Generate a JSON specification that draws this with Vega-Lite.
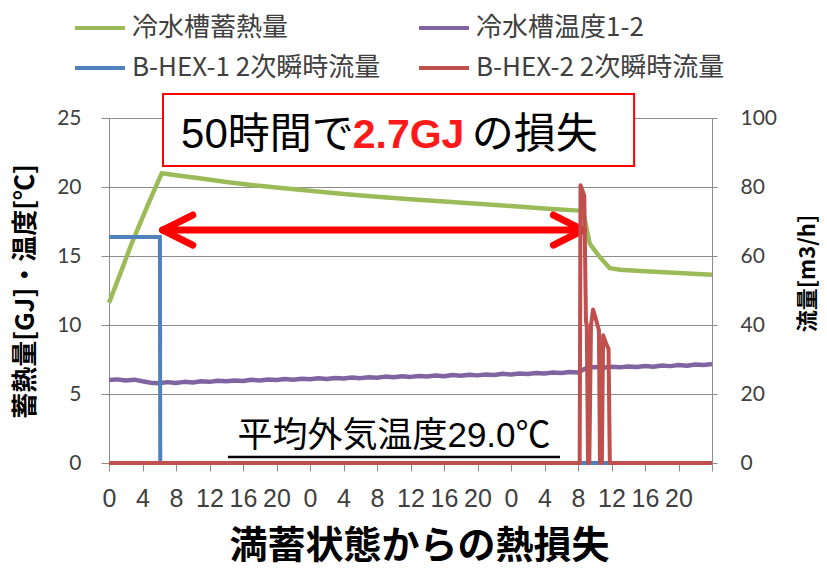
{
  "$schema": "https://vega.github.io/schema/vega-lite/v6.json",
  "width": 603,
  "height": 345,
  "autosize": {"type": "none"},
  "padding": {"left": 109, "top": 118, "right": 115, "bottom": 105},
  "background": "white",
  "config": {
    "view": {"stroke": null},
    "axis": {
      "domainColor": "#8c8c8c",
      "tickColor": "#8c8c8c",
      "labelColor": "#404040",
      "labelOverlap": false,
      "labelFlush": false
    },
    "legend": {
      "orient": "none",
      "direction": "horizontal",
      "legendX": -36,
      "legendY": -117,
      "columns": 2,
      "padding": 0,
      "symbolType": "stroke",
      "symbolSize": 2500,
      "symbolStrokeWidth": 4,
      "labelFont": "Noto Sans CJK JP",
      "labelFontSize": 26,
      "labelColor": "#404040",
      "labelOffset": 5,
      "labelLimit": 500,
      "columnPadding": 30,
      "rowPadding": -6
    }
  },
  "datasets": {
    "series": [
      {"s": "冷水槽蓄熱量", "h": 0, "v": 11.6},
      {"s": "冷水槽蓄熱量", "h": 1.4, "v": 13.8},
      {"s": "冷水槽蓄熱量", "h": 2.7, "v": 15.9},
      {"s": "冷水槽蓄熱量", "h": 4.5, "v": 18.5},
      {"s": "冷水槽蓄熱量", "h": 6.3, "v": 21.0},
      {"s": "冷水槽蓄熱量", "h": 8, "v": 20.85},
      {"s": "冷水槽蓄熱量", "h": 11, "v": 20.62},
      {"s": "冷水槽蓄熱量", "h": 14, "v": 20.36},
      {"s": "冷水槽蓄熱量", "h": 17, "v": 20.14},
      {"s": "冷水槽蓄熱量", "h": 20, "v": 19.96},
      {"s": "冷水槽蓄熱量", "h": 24, "v": 19.73},
      {"s": "冷水槽蓄熱量", "h": 28, "v": 19.5},
      {"s": "冷水槽蓄熱量", "h": 32, "v": 19.3},
      {"s": "冷水槽蓄熱量", "h": 36, "v": 19.12},
      {"s": "冷水槽蓄熱量", "h": 40, "v": 18.95},
      {"s": "冷水槽蓄熱量", "h": 44, "v": 18.79},
      {"s": "冷水槽蓄熱量", "h": 48, "v": 18.62},
      {"s": "冷水槽蓄熱量", "h": 52, "v": 18.45},
      {"s": "冷水槽蓄熱量", "h": 56.6, "v": 18.27},
      {"s": "冷水槽蓄熱量", "h": 57.4, "v": 15.9},
      {"s": "冷水槽蓄熱量", "h": 58.5, "v": 15.0},
      {"s": "冷水槽蓄熱量", "h": 59.8, "v": 14.12},
      {"s": "冷水槽蓄熱量", "h": 61, "v": 14.0},
      {"s": "冷水槽蓄熱量", "h": 64, "v": 13.9},
      {"s": "冷水槽蓄熱量", "h": 68, "v": 13.76},
      {"s": "冷水槽蓄熱量", "h": 72, "v": 13.65},

      {"s": "冷水槽温度1-2", "h": 0, "v": 6.02},
      {"s": "冷水槽温度1-2", "h": 1, "v": 6.06},
      {"s": "冷水槽温度1-2", "h": 2, "v": 5.98},
      {"s": "冷水槽温度1-2", "h": 3, "v": 6.04},
      {"s": "冷水槽温度1-2", "h": 4, "v": 5.92},
      {"s": "冷水槽温度1-2", "h": 5, "v": 5.82},
      {"s": "冷水槽温度1-2", "h": 6, "v": 5.78},
      {"s": "冷水槽温度1-2", "h": 7, "v": 5.86},
      {"s": "冷水槽温度1-2", "h": 8, "v": 5.8},
      {"s": "冷水槽温度1-2", "h": 9, "v": 5.88},
      {"s": "冷水槽温度1-2", "h": 10, "v": 5.84},
      {"s": "冷水槽温度1-2", "h": 11, "v": 5.93},
      {"s": "冷水槽温度1-2", "h": 12, "v": 5.88},
      {"s": "冷水槽温度1-2", "h": 13, "v": 5.96},
      {"s": "冷水槽温度1-2", "h": 14, "v": 5.92},
      {"s": "冷水槽温度1-2", "h": 15, "v": 5.97},
      {"s": "冷水槽温度1-2", "h": 16, "v": 5.94},
      {"s": "冷水槽温度1-2", "h": 17, "v": 6.03},
      {"s": "冷水槽温度1-2", "h": 18, "v": 5.98},
      {"s": "冷水槽温度1-2", "h": 19, "v": 6.05},
      {"s": "冷水槽温度1-2", "h": 20, "v": 6.01},
      {"s": "冷水槽温度1-2", "h": 21, "v": 6.09},
      {"s": "冷水槽温度1-2", "h": 22, "v": 6.04},
      {"s": "冷水槽温度1-2", "h": 23, "v": 6.1},
      {"s": "冷水槽温度1-2", "h": 24, "v": 6.07},
      {"s": "冷水槽温度1-2", "h": 25, "v": 6.14},
      {"s": "冷水槽温度1-2", "h": 26, "v": 6.09},
      {"s": "冷水槽温度1-2", "h": 27, "v": 6.16},
      {"s": "冷水槽温度1-2", "h": 28, "v": 6.12},
      {"s": "冷水槽温度1-2", "h": 29, "v": 6.19},
      {"s": "冷水槽温度1-2", "h": 30, "v": 6.15},
      {"s": "冷水槽温度1-2", "h": 31, "v": 6.22},
      {"s": "冷水槽温度1-2", "h": 32, "v": 6.18},
      {"s": "冷水槽温度1-2", "h": 33, "v": 6.26},
      {"s": "冷水槽温度1-2", "h": 34, "v": 6.21},
      {"s": "冷水槽温度1-2", "h": 35, "v": 6.28},
      {"s": "冷水槽温度1-2", "h": 36, "v": 6.24},
      {"s": "冷水槽温度1-2", "h": 37, "v": 6.31},
      {"s": "冷水槽温度1-2", "h": 38, "v": 6.27},
      {"s": "冷水槽温度1-2", "h": 39, "v": 6.34},
      {"s": "冷水槽温度1-2", "h": 40, "v": 6.29},
      {"s": "冷水槽温度1-2", "h": 41, "v": 6.37},
      {"s": "冷水槽温度1-2", "h": 42, "v": 6.33},
      {"s": "冷水槽温度1-2", "h": 43, "v": 6.4},
      {"s": "冷水槽温度1-2", "h": 44, "v": 6.35},
      {"s": "冷水槽温度1-2", "h": 45, "v": 6.42},
      {"s": "冷水槽温度1-2", "h": 46, "v": 6.38},
      {"s": "冷水槽温度1-2", "h": 47, "v": 6.46},
      {"s": "冷水槽温度1-2", "h": 48, "v": 6.41},
      {"s": "冷水槽温度1-2", "h": 49, "v": 6.49},
      {"s": "冷水槽温度1-2", "h": 50, "v": 6.45},
      {"s": "冷水槽温度1-2", "h": 51, "v": 6.52},
      {"s": "冷水槽温度1-2", "h": 52, "v": 6.48},
      {"s": "冷水槽温度1-2", "h": 53, "v": 6.56},
      {"s": "冷水槽温度1-2", "h": 54, "v": 6.52},
      {"s": "冷水槽温度1-2", "h": 55, "v": 6.59},
      {"s": "冷水槽温度1-2", "h": 56, "v": 6.56},
      {"s": "冷水槽温度1-2", "h": 57, "v": 6.88},
      {"s": "冷水槽温度1-2", "h": 58, "v": 6.95},
      {"s": "冷水槽温度1-2", "h": 59, "v": 6.9},
      {"s": "冷水槽温度1-2", "h": 60, "v": 6.98},
      {"s": "冷水槽温度1-2", "h": 61, "v": 6.93},
      {"s": "冷水槽温度1-2", "h": 62, "v": 7.0},
      {"s": "冷水槽温度1-2", "h": 63, "v": 6.96},
      {"s": "冷水槽温度1-2", "h": 64, "v": 7.03},
      {"s": "冷水槽温度1-2", "h": 65, "v": 6.98},
      {"s": "冷水槽温度1-2", "h": 66, "v": 7.06},
      {"s": "冷水槽温度1-2", "h": 67, "v": 7.02},
      {"s": "冷水槽温度1-2", "h": 68, "v": 7.1},
      {"s": "冷水槽温度1-2", "h": 69, "v": 7.05},
      {"s": "冷水槽温度1-2", "h": 70, "v": 7.14},
      {"s": "冷水槽温度1-2", "h": 71, "v": 7.1},
      {"s": "冷水槽温度1-2", "h": 72, "v": 7.18},

      {"s": "B-HEX-1 2次瞬時流量", "h": 0, "v": 65.5},
      {"s": "B-HEX-1 2次瞬時流量", "h": 6.08, "v": 65.5},
      {"s": "B-HEX-1 2次瞬時流量", "h": 6.12, "v": 0},
      {"s": "B-HEX-1 2次瞬時流量", "h": 72, "v": 0},

      {"s": "B-HEX-2 2次瞬時流量", "h": 0, "v": 0},
      {"s": "B-HEX-2 2次瞬時流量", "h": 56.2, "v": 0},
      {"s": "B-HEX-2 2次瞬時流量", "h": 56.3, "v": 80.5},
      {"s": "B-HEX-2 2次瞬時流量", "h": 56.75, "v": 77.5},
      {"s": "B-HEX-2 2次瞬時流量", "h": 56.95, "v": 41},
      {"s": "B-HEX-2 2次瞬時流量", "h": 57.05, "v": 40},
      {"s": "B-HEX-2 2次瞬時流量", "h": 57.2, "v": 0},
      {"s": "B-HEX-2 2次瞬時流量", "h": 57.35, "v": 0},
      {"s": "B-HEX-2 2次瞬時流量", "h": 57.55, "v": 40},
      {"s": "B-HEX-2 2次瞬時流量", "h": 57.8, "v": 44.5},
      {"s": "B-HEX-2 2次瞬時流量", "h": 58.1, "v": 42},
      {"s": "B-HEX-2 2次瞬時流量", "h": 58.5, "v": 38.5},
      {"s": "B-HEX-2 2次瞬時流量", "h": 58.62, "v": 0},
      {"s": "B-HEX-2 2次瞬時流量", "h": 58.85, "v": 0},
      {"s": "B-HEX-2 2次瞬時流量", "h": 59.0, "v": 37},
      {"s": "B-HEX-2 2次瞬時流量", "h": 59.3, "v": 35},
      {"s": "B-HEX-2 2次瞬時流量", "h": 59.65, "v": 33},
      {"s": "B-HEX-2 2次瞬時流量", "h": 59.8, "v": 0},
      {"s": "B-HEX-2 2次瞬時流量", "h": 72, "v": 0}
    ],
    "callout": [
      {"h": 6.45, "h2": 62.7, "v": 21.52, "v2": 26.74}
    ],
    "calloutPlain": [
      {"t": "50時間で", "h": 8.6, "v": 22.83},
      {"t": "の損失", "h": 43.3, "v": 22.83}
    ],
    "calloutRed": [
      {"t": "2.7GJ", "h": 29.1, "v": 22.83}
    ],
    "arrow": [
      {"h": 6.41, "v": 16.88, "h2": 56.64, "v2": 16.88},
      {"h": 6.41, "v": 16.88, "h2": 10.0, "v2": 17.97},
      {"h": 6.41, "v": 16.88, "h2": 10.0, "v2": 15.79},
      {"h": 56.64, "v": 16.88, "h2": 53.06, "v2": 17.97},
      {"h": 56.64, "v": 16.88, "h2": 53.06, "v2": 15.79}
    ],
    "note": [
      {"t": "平均外気温度29.0℃", "h": 34.03, "v": 1.16}
    ],
    "underline": [
      {"h": 14.2, "h2": 53.85, "v": 0.43}
    ]
  },
  "encoding": {
    "x": {
      "field": "h", "type": "quantitative",
      "scale": {"domain": [0, 72], "nice": false, "zero": false},
      "axis": {
        "values": [0, 4, 8, 12, 16, 20, 24, 28, 32, 36, 40, 44, 48, 52, 56, 60, 64, 68, 72],
        "labelExpr": "datum.value >= 72 ? '' : '' + (datum.value % 24)",
        "grid": false,
        "tickSize": 8,
        "labelFont": "Liberation Sans Narrow, Liberation Sans",
        "labelFontSize": 25,
        "labelPadding": 15,
        "title": "満蓄状態からの熱損失",
        "titleFont": "Noto Sans CJK JP",
        "titleFontSize": 38,
        "titleFontWeight": "bold",
        "titleColor": "#000000",
        "titleX": 310,
        "titleY": 94,
        "titleAlign": "center",
        "titleBaseline": "alphabetic",
        "titleAngle": 0
      }
    }
  },
  "layer": [
    {
      "encoding": {
        "y": {
          "field": "v", "type": "quantitative",
          "scale": {"domain": [0, 25], "nice": false, "zero": false},
          "axis": {
            "orient": "left",
            "values": [0, 5, 10, 15, 20, 25],
            "grid": true,
            "gridColor": "#8c8c8c",
            "gridWidth": 1,
            "tickSize": 8,
            "labelFont": "Lato",
            "labelFontSize": 21,
            "labelPadding": 20,
            "title": "蓄熱量[GJ]・温度[℃]",
            "titleFont": "Noto Sans CJK JP",
            "titleFontSize": 26,
            "titleFontWeight": "bold",
            "titleColor": "#000000",
            "titleAngle": 270,
            "titleX": -84,
            "titleY": 173,
            "titleAlign": "center",
            "titleBaseline": "middle"
          }
        }
      },
      "layer": [
        {
          "data": {"name": "series"},
          "transform": [{"filter": {"field": "s", "oneOf": ["冷水槽蓄熱量", "冷水槽温度1-2"]}}],
          "mark": {"type": "line", "strokeWidth": 4.5, "strokeJoin": "round"},
          "encoding": {
            "strokeWidth": {
              "field": "s", "type": "nominal",
              "scale": {"domain": ["冷水槽蓄熱量", "冷水槽温度1-2"], "range": [4.5, 5.5]},
              "legend": null
            },
            "color": {
              "field": "s", "type": "nominal",
              "scale": {
                "domain": ["冷水槽蓄熱量", "冷水槽温度1-2", "B-HEX-1 2次瞬時流量", "B-HEX-2 2次瞬時流量"],
                "range": ["#9bbb59", "#8064a2", "#4f81bd", "#c0504d"]
              },
              "legend": {"title": null}
            }
          }
        },
        {
          "data": {"name": "callout"},
          "mark": {"type": "rect", "fill": "white", "stroke": "#ff0000", "strokeWidth": 2},
          "encoding": {
            "x2": {"field": "h2"},
            "y2": {"field": "v2"}
          }
        },
        {
          "data": {"name": "calloutPlain"},
          "mark": {"type": "text", "align": "left", "baseline": "alphabetic", "font": "Liberation Sans, Noto Sans CJK JP", "fontSize": 42, "color": "#000000"},
          "encoding": {
            "text": {"field": "t"}
          }
        },
        {
          "data": {"name": "calloutRed"},
          "mark": {"type": "text", "align": "left", "baseline": "alphabetic", "font": "Liberation Sans", "fontSize": 41, "fontWeight": "bold", "color": "#ff1a1a"},
          "encoding": {
            "text": {"field": "t"}
          }
        },
        {
          "data": {"name": "arrow"},
          "mark": {"type": "rule", "color": "#ff0000", "strokeWidth": 7, "strokeCap": "round"},
          "encoding": {
            "x2": {"field": "h2"},
            "y2": {"field": "v2"}
          }
        },
        {
          "data": {"name": "note"},
          "mark": {"type": "text", "align": "center", "baseline": "alphabetic", "font": "Liberation Sans, Noto Sans CJK JP", "fontSize": 35, "color": "#000000"},
          "encoding": {
            "text": {"field": "t"}
          }
        },
        {
          "data": {"name": "underline"},
          "mark": {"type": "rule", "color": "#000000", "strokeWidth": 2.5},
          "encoding": {
            "x2": {"field": "h2"}
          }
        }
      ]
    },
    {
      "encoding": {
        "y": {
          "field": "v", "type": "quantitative",
          "scale": {"domain": [0, 100], "nice": false, "zero": false},
          "axis": {
            "orient": "right",
            "values": [0, 20, 40, 60, 80, 100],
            "grid": false,
            "tickSize": 5,
            "labelFont": "Lato",
            "labelFontSize": 21,
            "labelPadding": 23,
            "title": "流量[m3/h]",
            "titleFont": "Noto Sans CJK JP",
            "titleFontSize": 22,
            "titleFontWeight": "bold",
            "titleColor": "#000000",
            "titleAngle": 270,
            "titleX": 95,
            "titleY": 155,
            "titleAlign": "center",
            "titleBaseline": "middle"
          }
        }
      },
      "layer": [
        {
          "data": {"name": "series"},
          "transform": [{"filter": {"field": "s", "equal": "B-HEX-1 2次瞬時流量"}}],
          "mark": {"type": "line", "strokeWidth": 4, "strokeJoin": "miter"},
          "encoding": {
            "color": {"field": "s", "type": "nominal"}
          }
        },
        {
          "data": {"name": "series"},
          "transform": [{"filter": {"field": "s", "equal": "B-HEX-2 2次瞬時流量"}}],
          "mark": {"type": "line", "strokeWidth": 4, "strokeJoin": "round"},
          "encoding": {
            "color": {"field": "s", "type": "nominal"}
          }
        }
      ]
    }
  ],
  "resolve": {"scale": {"y": "independent"}}
}
